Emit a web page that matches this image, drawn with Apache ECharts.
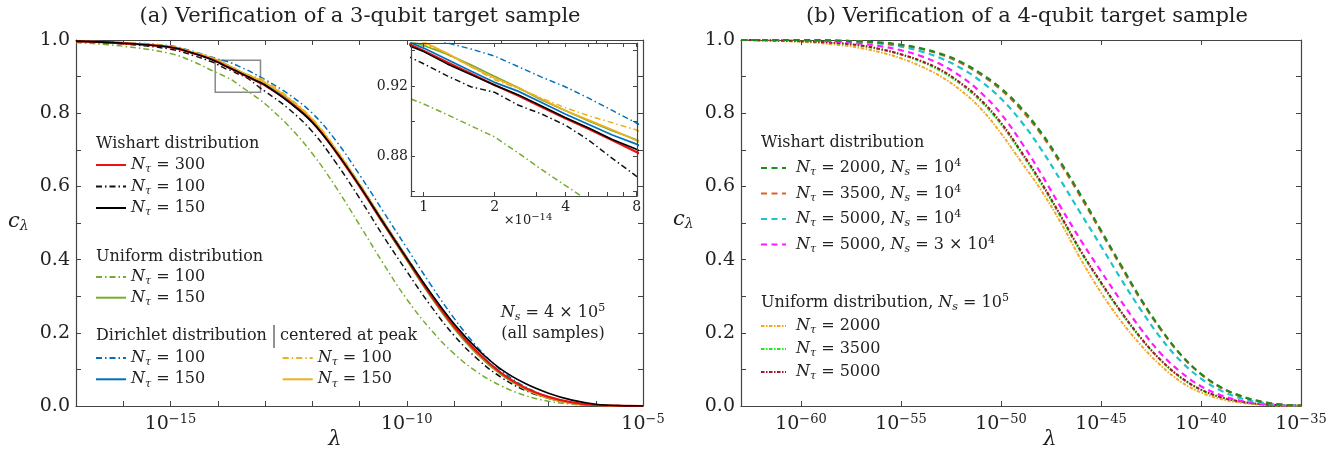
<!DOCTYPE html>
<html><head><meta charset="utf-8">
<script src="https://cdn.jsdelivr.net/npm/echarts@6.0.0/dist/echarts.min.js"></script>
<style>html,body{margin:0;padding:0;background:#fff;}#c{width:1337px;height:451px;}</style>
</head><body><div id="c"></div>
<script>
// ===== Panel (a): x = log10(lambda) =====
const logLambdaA = [-17, -16, -15, -14.5, -14.1, -14.0, -13.9, -13.8, -13.7, -13.6, -13.5, -13.4, -13.3, -13.2, -13.1, -13.0, -12.5, -12, -11.5, -11, -10.5, -10, -9.5, -9, -8.5, -8, -7.5, -7, -6.5, -6, -5.5, -5];
const wishart300 = [0.997, 0.991, 0.980, 0.963, 0.946, 0.940, 0.9335, 0.927, 0.9205, 0.9145, 0.908, 0.9015, 0.8955, 0.889, 0.8825, 0.876, 0.832, 0.776, 0.694, 0.600, 0.500, 0.402, 0.305, 0.218, 0.146, 0.090, 0.050, 0.025, 0.010, 0.003, 0.001, 0.000];
const wishart100 = [0.996, 0.989, 0.975, 0.957, 0.939, 0.9326, 0.9257, 0.9195, 0.9164, 0.9091, 0.904, 0.8977, 0.8891, 0.8787, 0.8688, 0.860, 0.812, 0.750, 0.665, 0.568, 0.465, 0.368, 0.275, 0.193, 0.128, 0.078, 0.043, 0.021, 0.008, 0.002, 0.0005, 0.000];
const wishart150 = [0.997, 0.991, 0.980, 0.963, 0.945, 0.9395, 0.9325, 0.9265, 0.9205, 0.915, 0.9085, 0.902, 0.896, 0.8895, 0.884, 0.877, 0.831, 0.775, 0.695, 0.602, 0.502, 0.404, 0.310, 0.225, 0.155, 0.100, 0.062, 0.035, 0.016, 0.005, 0.001, 0.000];
const uniform100 = [0.993, 0.983, 0.963, 0.940, 0.915, 0.9097, 0.9036, 0.8973, 0.891, 0.8819, 0.8724, 0.8634, 0.8545, 0.845, 0.836, 0.826, 0.765, 0.690, 0.598, 0.495, 0.390, 0.292, 0.210, 0.143, 0.092, 0.055, 0.029, 0.013, 0.005, 0.001, 0.000, 0.000];
const uniform150 = [0.997, 0.991, 0.981, 0.965, 0.947, 0.943, 0.938, 0.932, 0.9255, 0.919, 0.912, 0.906, 0.900, 0.8945, 0.8895, 0.883, 0.838, 0.780, 0.697, 0.600, 0.498, 0.398, 0.300, 0.212, 0.140, 0.085, 0.046, 0.021, 0.007, 0.002, 0.000, 0.000];
const dirichlet100 = [0.998, 0.993, 0.984, 0.968, 0.952, 0.948, 0.9445, 0.941, 0.937, 0.931, 0.925, 0.9195, 0.913, 0.906, 0.899, 0.892, 0.852, 0.800, 0.725, 0.632, 0.532, 0.432, 0.333, 0.240, 0.160, 0.097, 0.053, 0.025, 0.009, 0.002, 0.000, 0.000];
const dirichlet150 = [0.997, 0.991, 0.981, 0.964, 0.947, 0.9415, 0.935, 0.9285, 0.922, 0.917, 0.9105, 0.904, 0.898, 0.892, 0.887, 0.880, 0.836, 0.780, 0.699, 0.605, 0.505, 0.406, 0.309, 0.221, 0.147, 0.090, 0.049, 0.023, 0.008, 0.002, 0.000, 0.000];
const peak100 = [0.997, 0.992, 0.982, 0.966, 0.949, 0.944, 0.938, 0.931, 0.9235, 0.9185, 0.913, 0.9076, 0.903, 0.899, 0.895, 0.889, 0.843, 0.785, 0.703, 0.608, 0.507, 0.408, 0.311, 0.222, 0.148, 0.090, 0.049, 0.023, 0.008, 0.002, 0.000, 0.000];
const peak150 = [0.997, 0.992, 0.982, 0.966, 0.950, 0.945, 0.9385, 0.931, 0.9245, 0.919, 0.9125, 0.906, 0.9005, 0.895, 0.889, 0.883, 0.840, 0.783, 0.701, 0.606, 0.505, 0.405, 0.308, 0.220, 0.146, 0.089, 0.048, 0.022, 0.007, 0.002, 0.000, 0.000];

// ===== Panel (b): x = log10(lambda) =====
const logLambdaB = [-63, -60, -58, -57, -56, -55, -54, -53, -52, -51, -50, -49, -48, -47, -46, -45, -44, -43, -42, -41, -40, -39, -38, -37, -36, -35];
const wish2000 = [1.000, 1.000, 0.998, 0.996, 0.993, 0.987, 0.977, 0.962, 0.940, 0.908, 0.868, 0.815, 0.748, 0.665, 0.575, 0.480, 0.385, 0.292, 0.210, 0.140, 0.088, 0.051, 0.027, 0.012, 0.004, 0.001];
const wish3500 = [1.000, 1.000, 0.998, 0.996, 0.992, 0.986, 0.976, 0.960, 0.937, 0.905, 0.864, 0.810, 0.743, 0.660, 0.570, 0.476, 0.381, 0.289, 0.208, 0.139, 0.087, 0.050, 0.027, 0.012, 0.004, 0.001];
const wish5000 = [1.000, 1.000, 0.998, 0.995, 0.990, 0.982, 0.969, 0.950, 0.923, 0.887, 0.840, 0.778, 0.702, 0.615, 0.525, 0.437, 0.347, 0.262, 0.185, 0.122, 0.075, 0.042, 0.021, 0.009, 0.003, 0.001];
const wish5000ns3 = [1.000, 0.999, 0.995, 0.990, 0.983, 0.972, 0.956, 0.933, 0.900, 0.856, 0.798, 0.722, 0.635, 0.542, 0.452, 0.368, 0.287, 0.210, 0.143, 0.092, 0.054, 0.029, 0.014, 0.006, 0.002, 0.001];
const unif2000 = [1.000, 0.995, 0.986, 0.978, 0.966, 0.950, 0.928, 0.900, 0.862, 0.812, 0.745, 0.668, 0.590, 0.500, 0.400, 0.310, 0.232, 0.166, 0.110, 0.066, 0.037, 0.019, 0.009, 0.004, 0.001, 0.000];
const unif3500 = [1.000, 0.997, 0.990, 0.984, 0.974, 0.960, 0.941, 0.915, 0.879, 0.832, 0.770, 0.692, 0.608, 0.515, 0.420, 0.335, 0.256, 0.184, 0.124, 0.077, 0.044, 0.024, 0.012, 0.005, 0.002, 0.001];
const unif5000 = [1.000, 0.997, 0.991, 0.985, 0.975, 0.961, 0.943, 0.918, 0.882, 0.836, 0.774, 0.696, 0.612, 0.519, 0.423, 0.338, 0.258, 0.186, 0.125, 0.078, 0.045, 0.024, 0.012, 0.005, 0.002, 0.001];

// ===== ticks =====
const tickLabelsA = [-15, -10, -5];
const tickMarksA = [-17, -16, -15, -14, -13, -12, -11, -10, -9, -8, -7, -6, -5];
const tickLabelsB = [-60, -55, -50, -45, -40, -35];
const tickLabelsY = [0, 0.2, 0.4, 0.6, 0.8, 1.0];
const tickMarksY = [0, 0.1, 0.2, 0.3, 0.4, 0.5, 0.6, 0.7, 0.8, 0.9, 1.0];
const insetLabelsX = [1, 2, 4, 8];
const insetMarksX = [1, 2, 3, 4, 5, 6, 7, 8];
const insetLabelsY = [0.88, 0.92];
const insetMarksY = [0.86, 0.88, 0.90, 0.92, 0.94];
const insetRangeX = [0.884, 8.03];   // in units of 1e-14
const insetRangeY = [0.8573, 0.9444];

const FONT = 'DejaVu Serif';
const AX = '#444';
const TXT = '#222';
const DD = [6, 3, 1.5, 3];
const DASH = [6, 4.5];
const UDD = [3.5, 1.5, 1.5, 1.5];

function rich(size) {
  return {
    r: {fontFamily: FONT, fontSize: size, lineHeight: 20, color: TXT},
    i: {fontFamily: FONT, fontStyle: 'italic', fontSize: size, lineHeight: 20, color: TXT},
    i0: {fontFamily: FONT, fontStyle: 'italic', fontSize: size, lineHeight: 20, color: TXT, padding: [0, 0, 0, 5]},
    sb: {fontFamily: FONT, fontStyle: 'italic', fontSize: Math.round(size * 0.7), lineHeight: 7, verticalAlign: 'bottom', color: TXT},
    sp: {fontFamily: FONT, fontSize: Math.round(size * 0.7), lineHeight: 8, verticalAlign: 'top', color: TXT}
  };
}
const labelText = {
  aW300: '{i|N}{sb|τ}{r| = 300}', aW100: '{i|N}{sb|τ}{r| = 100}', aW150: '{i|N}{sb|τ}{r| = 150}',
  aU100: '{i|N}{sb|τ}{r| = 100}', aU150: '{i|N}{sb|τ}{r| = 150}',
  aD100: '{i|N}{sb|τ}{r| = 100}', aD150: '{i|N}{sb|τ}{r| = 150}',
  aC100: '{i|N}{sb|τ}{r| = 100}', aC150: '{i|N}{sb|τ}{r| = 150}',
  bW2000: '{i0|N}{sb|τ}{r| = 2000, }{i|N}{sb|s}{r| = 10}{sp|4}',
  bW3500: '{i0|N}{sb|τ}{r| = 3500, }{i|N}{sb|s}{r| = 10}{sp|4}',
  bW5000: '{i0|N}{sb|τ}{r| = 5000, }{i|N}{sb|s}{r| = 10}{sp|4}',
  bW5000b: '{i0|N}{sb|τ}{r| = 5000, }{i|N}{sb|s}{r| = 3 × 10}{sp|4}',
  bU2000: '{i0|N}{sb|τ}{r| = 2000}', bU3500: '{i0|N}{sb|τ}{r| = 3500}', bU5000: '{i0|N}{sb|τ}{r| = 5000}'
};

const specA = [
  ['aU100', uniform100, '#77ac30', 1.5, DD],
  ['aW100', wishart100, '#111111', 1.5, DD],
  ['aD100', dirichlet100, '#0072bd', 1.5, DD],
  ['aC100', peak100, '#edb120', 1.5, DD],
  ['aU150', uniform150, '#77ac30', 1.7, 'solid'],
  ['aD150', dirichlet150, '#0072bd', 1.7, 'solid'],
  ['aC150', peak150, '#edb120', 1.7, 'solid'],
  ['aW300', wishart300, '#ee1111', 2.2, 'solid'],
  ['aW150', wishart150, '#000000', 1.6, 'solid']
];
const specB = [
  ['bU2000', unif2000, '#f2a72a', 2.0, UDD],
  ['bU3500', unif3500, '#22e622', 2.0, UDD],
  ['bU5000', unif5000, '#a0182e', 2.0, UDD],
  ['bW5000b', wish5000ns3, '#ff1aff', 2.2, DASH],
  ['bW5000', wish5000, '#1ec4cc', 2.2, DASH],
  ['bW3500', wish3500, '#e0602a', 2.2, DASH],
  ['bW2000', wish2000, '#1f8a1f', 2.2, DASH]
];

const pairs = (xs, ys) => xs.map((x, i) => [x, ys[i]]);
const series = [];
specA.forEach(([name, ys, color, w, dash], k) => {
  const s = {type: 'line', name, xAxisIndex: 0, yAxisIndex: 0, data: pairs(logLambdaA, ys),
    symbol: 'none', smooth: 0.4, z: 2, animation: false,
    lineStyle: {color, width: w, type: dash}, itemStyle: {color}};
  if (k === 0) {
    s.markArea = {silent: true, itemStyle: {color: 'rgba(0,0,0,0)', borderColor: '#8a8a8a', borderWidth: 1.5},
      data: [[{coord: [Math.log10(insetRangeX[0]) - 14, insetRangeY[0]]}, {coord: [Math.log10(insetRangeX[1]) - 14, insetRangeY[1]]}]]};
  }
  series.push(s);
  series.push({type: 'line', name, xAxisIndex: 4, yAxisIndex: 4, data: pairs(logLambdaA, ys),
    symbol: 'none', smooth: false, z: 4, animation: false,
    lineStyle: {color, width: w, type: dash}, itemStyle: {color}});
});
specB.forEach(([name, ys, color, w, dash]) => {
  series.push({type: 'line', name, xAxisIndex: 2, yAxisIndex: 2, data: pairs(logLambdaB, ys),
    symbol: 'none', smooth: 0.4, z: 2, animation: false,
    lineStyle: {color, width: w, type: dash}, itemStyle: {color}});
});

const supRich = {
  b: {fontFamily: FONT, fontSize: 19, color: TXT, lineHeight: 22},
  s: {fontFamily: FONT, fontSize: 13, color: TXT, lineHeight: 10, verticalAlign: 'top'}
};
const powFmt = v => '{b|10}{s|−' + Math.abs(Math.round(v)) + '}';

function xAxis(grid, min, max, labels, marks, pos, z) {
  return {type: 'value', gridIndex: grid, min, max, position: pos, z: z || 0,
    axisLine: {show: true, onZero: false, lineStyle: {color: AX, width: 1.2}},
    axisTick: {show: true, inside: true, length: 5, customValues: marks, lineStyle: {color: AX, width: 1}},
    axisLabel: labels ? {show: true, customValues: labels, formatter: powFmt, margin: 7, rich: supRich} : {show: false},
    splitLine: {show: false}};
}
function yAxis(grid, labels, pos) {
  return {type: 'value', gridIndex: grid, min: 0, max: 1, position: pos,
    axisLine: {show: true, onZero: false, lineStyle: {color: AX, width: 1.2}},
    axisTick: {show: true, inside: true, length: 5, customValues: tickMarksY, lineStyle: {color: AX, width: 1}},
    axisLabel: labels ? {show: true, customValues: tickLabelsY, formatter: v => v.toFixed(1), margin: 6,
      fontFamily: FONT, fontSize: 19, color: TXT} : {show: false},
    splitLine: {show: false}};
}
const insetMin = Math.log10(insetRangeX[0]) - 14, insetMax = Math.log10(insetRangeX[1]) - 14;
const insetX = (pos, show) => ({type: 'value', gridIndex: 2, min: insetMin, max: insetMax, position: pos, z: 5,
  axisLine: {show: true, onZero: false, lineStyle: {color: AX, width: 1.2}},
  axisTick: {show: true, inside: true, length: 4, customValues: insetMarksX.map(k => Math.log10(k) - 14), lineStyle: {color: AX}},
  axisLabel: show ? {show: true, customValues: insetLabelsX.map(k => Math.log10(k) - 14),
    formatter: v => String(Math.round(Math.pow(10, v + 14))), margin: 4, fontFamily: FONT, fontSize: 14, color: TXT} : {show: false},
  splitLine: {show: false}});
const insetY = (pos, show) => ({type: 'value', gridIndex: 2, min: insetRangeY[0], max: insetRangeY[1], position: pos, z: 5,
  axisLine: {show: true, onZero: false, lineStyle: {color: AX, width: 1.2}},
  axisTick: {show: true, inside: true, length: 4, customValues: insetMarksY, lineStyle: {color: AX}},
  axisLabel: show ? {show: true, customValues: insetLabelsY, formatter: v => v.toFixed(2), margin: 3,
    fontFamily: FONT, fontSize: 14, color: TXT} : {show: false},
  splitLine: {show: false}});

function legend(names, left, top, gap, iw) {
  return {show: true, data: names, orient: 'vertical', left, top, itemGap: gap, itemWidth: iw, itemHeight: 14,
    padding: 0, selectedMode: false, formatter: n => labelText[n],
    itemStyle: {opacity: 0, borderWidth: 0},
    textStyle: {fontFamily: FONT, fontSize: 16, color: TXT, rich: rich(16)}};
}

const gText = (x, y, text, opt) => Object.assign({type: 'text', x, y, z: 10, silent: true,
  style: Object.assign({text, fontFamily: FONT, fontSize: 16, fill: TXT, align: 'left', verticalAlign: 'middle', rich: rich(16)}, (opt || {}))});
const cLam = {c: {fontFamily: FONT, fontStyle: 'italic', fontSize: 21, color: TXT, lineHeight: 22},
  s: {fontFamily: FONT, fontStyle: 'italic', fontSize: 14, color: TXT, lineHeight: 8, verticalAlign: 'bottom'}};

const option = {
  animation: false,
  backgroundColor: '#ffffff',
  grid: [
    {left: 76, top: 40, width: 567, height: 366, show: false},
    {left: 741, top: 40, width: 560, height: 366, show: false},
    {left: 411, top: 43, width: 226, height: 153, show: true, backgroundColor: '#ffffff', borderWidth: 0, z: 3}
  ],
  xAxis: [
    xAxis(0, -17, -5, tickLabelsA, tickMarksA, 'bottom'),
    xAxis(0, -17, -5, null, tickMarksA, 'top'),
    xAxis(1, -63, -35, tickLabelsB, tickLabelsB, 'bottom'),
    xAxis(1, -63, -35, null, tickLabelsB, 'top'),
    insetX('bottom', true),
    insetX('top', false)
  ],
  yAxis: [
    yAxis(0, true, 'left'), yAxis(0, false, 'right'),
    yAxis(1, true, 'left'), yAxis(1, false, 'right'),
    insetY('left', true), insetY('right', false)
  ],
  legend: [
    legend(['aW300', 'aW100', 'aW150'], 95, 157, 3.5, 30),
    legend(['aU100', 'aU150'], 95, 269, 2.7, 30),
    legend(['aD100', 'aD150'], 95, 350, 3.3, 30),
    legend(['aC100', 'aC150'], 281.7, 350, 3.3, 30),
    legend(['bW2000', 'bW3500', 'bW5000', 'bW5000b'], 760, 158, 5.5, 25),
    legend(['bU2000', 'bU3500', 'bU5000'], 760, 318, 5, 25)
  ],
  graphic: [
    gText(360, 17, '(a) Verification of a 3-qubit target sample', {fontSize: 21, align: 'center'}),
    gText(1027, 17, '(b) Verification of a 4-qubit target sample', {fontSize: 21, align: 'center'}),
    gText(96, 144, 'Wishart distribution'),
    gText(96, 257, 'Uniform distribution'),
    gText(96, 336, 'Dirichlet distribution'),
    {type: 'line', z: 10, silent: true, shape: {x1: 274, y1: 325, x2: 274, y2: 348}, style: {stroke: TXT, lineWidth: 1}},
    gText(280, 336, 'centered at peak'),
    gText(553, 313, '{i|N}{sb|s}{r| = 4 × 10}{sp|5}', {align: 'center'}),
    gText(553, 334, '(all samples)', {align: 'center'}),
    gText(528, 221, '{r|×10}{sp|−14}', {align: 'center', rich: {r: {fontFamily: FONT, fontSize: 13, color: TXT, lineHeight: 18}, sp: {fontFamily: FONT, fontSize: 10, color: TXT, lineHeight: 8, verticalAlign: 'top'}}}),
    gText(761, 143, 'Wishart distribution'),
    gText(761, 303, '{r|Uniform distribution, }{i|N}{sb|s}{r| = 10}{sp|5}'),
    gText(335, 440, 'λ', {fontStyle: 'italic', fontSize: 21, align: 'center'}),
    gText(1050, 440, 'λ', {fontStyle: 'italic', fontSize: 21, align: 'center'}),
    gText(8, 222, '{c|c}{s|λ}', {rich: cLam}),
    gText(673, 220, '{c|c}{s|λ}', {rich: cLam})
  ],
  series
};
const chart = echarts.init(document.getElementById('c'));
chart.setOption(option);
</script></body></html>
